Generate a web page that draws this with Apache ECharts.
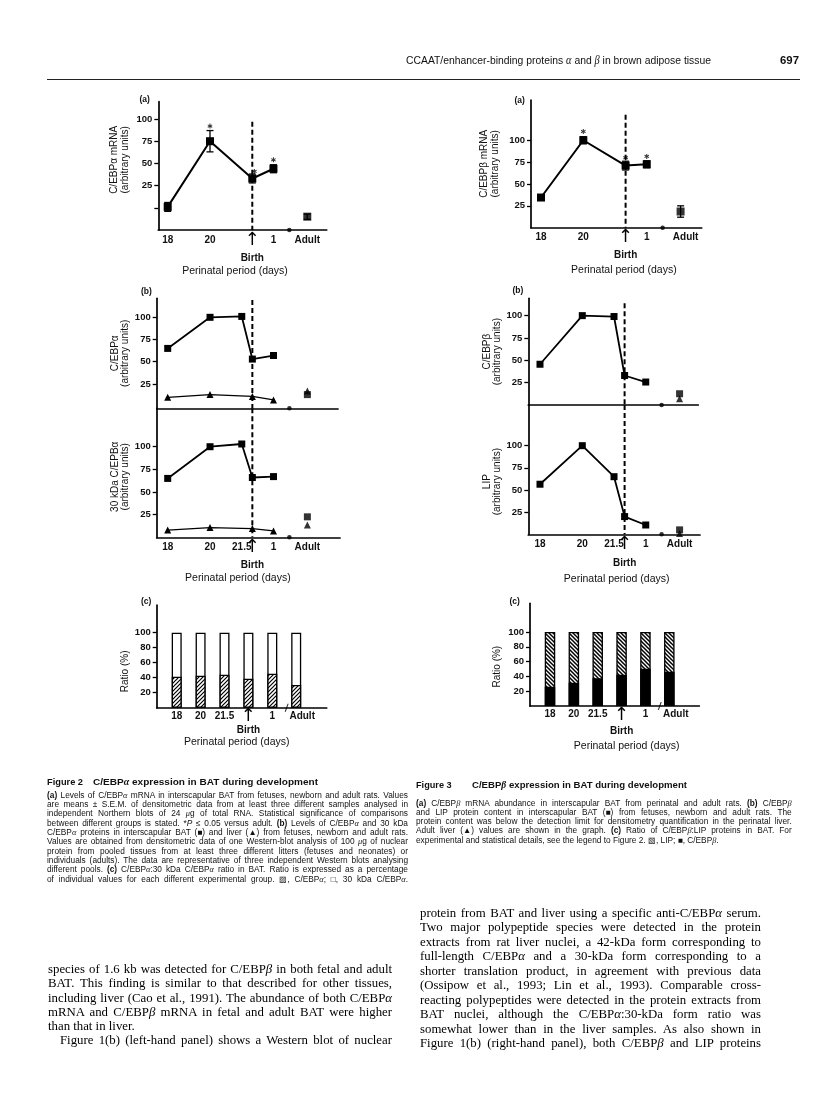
<!DOCTYPE html>
<html><head><meta charset="utf-8">
<script src="https://cdn.jsdelivr.net/npm/echarts@6/dist/echarts.min.js"></script>
<style>
html,body{margin:0;padding:0;background:#fff}
#page{position:relative;width:816px;height:1099px;overflow:hidden;background:#fff}
#chart{position:absolute;left:0;top:0;width:816px;height:1099px}
#txt{position:absolute;left:0;top:0;width:816px;height:1099px;pointer-events:none}
.ln{position:absolute;white-space:nowrap;line-height:1;color:#111}
.ln span{display:inline-block;transform-origin:0 50%}
.cap{font-family:'Liberation Sans Narrow','Liberation Sans',Arial,sans-serif}
.body{font-family:'Liberation Serif','Times New Roman',serif;color:#000}
.g{font-family:'Liberation Serif',serif;font-style:italic}
#rule{position:absolute;left:47px;top:79px;width:753px;height:1.3px;background:#222}
</style></head>
<body><div id="page"><div id="chart"></div><div id="txt"><div id="rule"></div></div></div>
<script>
// ---------------- DATA ----------------
// Fig 2(a) C/EBPalpha mRNA
const fig2aDays = [18, 20, 22, 23];
const fig2aMean = [1, 75, 33, 44];
const fig2aSem = [5, 12, 5, 4.5];
const fig2aAdult = [-10];
const fig2aAdultSem = [3];
const fig2aStarDays = [20, 22.1, 23];
const fig2aStarVals = [92, 41, 54];
// Fig 3(a) C/EBPbeta mRNA
const fig3aDays = [18, 20, 22, 23];
const fig3aMean = [34.5, 100, 71, 72.5];
const fig3aSem = [2, 4, 5, 4];
const fig3aAdult = [18.5];
const fig3aAdultSem = [6.5];
const fig3aStarDays = [20, 22, 23];
const fig3aStarVals = [110, 80, 81.5];
// Fig 2(b) proteins
const batDays = [18, 20, 21.5, 22, 23];
const liverDays = [18, 20, 22, 23];
const fig2bAlphaBAT = [65, 100, 101, 53, 57];
const fig2bAlphaLiver = [10, 13, 11, 7];
const fig2bAlphaAdult = [13, 17];      // [BAT, liver]
const fig2b30BAT = [65, 100, 103, 66, 67];
const fig2b30Liver = [8, 10.7, 9.6, 7];
const fig2b30Adult = [22.6, 13.7];     // [BAT, liver]
// Fig 3(b) proteins
const fig3bBetaBAT = [45.6, 100, 99, 33, 25.7];
const fig3bBetaAdult = [12.6, 7];      // [BAT, liver]
const fig3bLipBAT = [56.5, 100, 65, 20, 10.5];
const fig3bLipAdult = [5, 1];          // [BAT, liver]
// Fig 2(c), 3(c) ratios (%)
const ratioPos = [1, 2, 3, 4, 5, 6];
const ratioLabels = ['18', '20', '21.5', 'Birth', '1', 'Adult'];
const fig2cAlpha = [41.3, 42.7, 44, 38.7, 45.3, 30.2];
const fig3cBeta = [26, 31.5, 37.4, 42.3, 50.5, 46.4];
const ratioTotal = 100;
// axes
const birthDay = 22;
const adultDay = 24.6;
const breakDay = 23.75;
const ratioBreak = 5.6;
const dayTicksA = [18, 20, 22, 23, 24.6];
const dayLabelsA = ['18', '20', 'Birth', '1', 'Adult'];
const dayTicksB = [18, 20, 21.5, 22, 23, 24.6];
const dayLabelsB = ['18', '20', '21.5', 'Birth', '1', 'Adult'];
const yTicks = [25, 50, 75, 100];
const yTicks2a = [0, 25, 50, 75, 100];
const ratioTicks = [20, 40, 60, 80, 100];

// ---------------- TEXT ----------------
const fig2Caption = [
 '<b>(a)</b> Levels of C/EBP<i class="g">α</i> mRNA in interscapular BAT from fetuses, newborn and adult rats. Values',
 'are means ± S.E.M. of densitometric data from at least three different samples analysed in',
 'independent Northern blots of 24 <i class="g">μ</i>g of total RNA. Statistical significance of comparisons',
 'between different groups is stated. *<i>P</i> ≤ 0.05 versus adult. <b>(b)</b> Levels of C/EBP<i class="g">α</i> and 30 kDa',
 'C/EBP<i class="g">α</i> proteins in interscapular BAT (■) and liver (▲) from fetuses, newborn and adult rats.',
 'Values are obtained from densitometric data of one Western-blot analysis of 100 <i class="g">μ</i>g of nuclear',
 'protein from pooled tissues from at least three different litters (fetuses and neonates) or',
 'individuals (adults). The data are representative of three independent Western blots analysing',
 'different pools. <b>(c)</b> C/EBP<i class="g">α</i>:30 kDa C/EBP<i class="g">α</i> ratio in BAT. Ratio is expressed as a percentage',
 'of individual values for each different experimental group. ▨, C/EBP<i class="g">α</i>; □, 30 kDa C/EBP<i class="g">α</i>.'
];
const fig3Caption = [
 '<b>(a)</b> C/EBP<i class="g">β</i> mRNA abundance in interscapular BAT from perinatal and adult rats. <b>(b)</b> C/EBP<i class="g">β</i>',
 'and LIP protein content in interscapular BAT (■) from fetuses, newborn and adult rats. The',
 'protein content was below the detection limit for densitometry quantification in the perinatal liver.',
 'Adult liver (▲) values are shown in the graph. <b>(c)</b> Ratio of C/EBP<i class="g">β</i>:LIP proteins in BAT. For',
 'experimental and statistical details, see the legend to Figure 2. ▧, LIP; ■, C/EBP<i class="g">β</i>.'
];
const leftBody = [
 'species of 1.6 kb was detected for C/EBP<i>β</i> in both fetal and adult',
 'BAT. This finding is similar to that described for other tissues,',
 'including liver (Cao et al., 1991). The abundance of both C/EBP<i>α</i>',
 'mRNA and C/EBP<i>β</i> mRNA in fetal and adult BAT were higher',
 'than that in liver.',
 'Figure 1(b) (left-hand panel) shows a Western blot of nuclear'
];
const rightBody = [
 'protein from BAT and liver using a specific anti-C/EBP<i>α</i> serum.',
 'Two major polypeptide species were detected in the protein',
 'extracts from rat liver nuclei, a 42-kDa form corresponding to',
 'full-length C/EBP<i>α</i> and a 30-kDa form corresponding to a',
 'shorter translation product, in agreement with previous data',
 '(Ossipow et al., 1993; Lin et al., 1993). Comparable cross-',
 'reacting polypeptides were detected in the protein extracts from',
 'BAT nuclei, although the C/EBP<i>α</i>:30-kDa form ratio was',
 'somewhat lower than in the liver samples. As also shown in',
 'Figure 1(b) (right-hand panel), both C/EBP<i>β</i> and LIP proteins'
];

// ---------------- TEXT LAYOUT ----------------
const txt = document.getElementById('txt');
function mk(html, x, yc, fs, cls, weight) {
  const d = document.createElement('div');
  d.className = 'ln ' + cls;
  d.style.left = x + 'px';
  d.style.top = (yc - 0.53 * fs) + 'px';
  d.style.fontSize = fs + 'px';
  if (weight) d.style.fontWeight = weight;
  const s = document.createElement('span');
  s.innerHTML = html;
  d.appendChild(s);
  txt.appendChild(d);
  return s;
}
function block(lines, fs, cls, weight) {
  const spans = lines.map(l => mk(l.html, l.x, l.yc, fs, cls, weight));
  const nats = spans.map(s => s.getBoundingClientRect().width);
  let k = 1;
  lines.forEach((l, i) => { if (l.w) k = Math.min(k, l.w / nats[i]); });
  lines.forEach((l, i) => {
    const s = spans[i];
    if (l.fit) { s.style.transform = 'scaleX(' + (l.w / nats[i]) + ')'; return; }
    s.style.transform = 'scaleX(' + k + ')';
    if (l.just && l.w) {
      const n = (s.textContent.match(/ /g) || []).length;
      if (n > 0) s.style.wordSpacing = ((l.w / k - nats[i]) / n) + 'px';
    }
  });
}
block([{html: 'CCAAT/enhancer-binding proteins <i class="g">α</i> and <i class="g">β</i> in brown adipose tissue', x: 406, yc: 61, w: 305, fit: true}], 11.5, 'cap');
block([{html: '697', x: 780, yc: 61, w: 19, fit: true}], 11.5, 'cap', 'bold');
[['(a)', 139.5, 100], ['(a)', 514.5, 100.7], ['(b)', 141, 291.7], ['(b)', 512.5, 291], ['(c)', 141, 601.7], ['(c)', 509.5, 601.7]]
  .forEach(p => mk(p[0], p[1], p[2], 8.5, 'cap', 'bold'));
block([{html: 'Figure 2', x: 47, yc: 781.7, w: 36, fit: true}], 9.5, 'cap', 'bold');
block([{html: 'C/EBP<i class="g">α</i> expression in BAT during development', x: 93.3, yc: 781.7, w: 225, fit: true}], 9.5, 'cap', 'bold');
block([{html: 'Figure 3', x: 416, yc: 785, w: 35.7, fit: true}], 9.5, 'cap', 'bold');
block([{html: 'C/EBP<i class="g">β</i> expression in BAT during development', x: 471.7, yc: 785, w: 215, fit: true}], 9.5, 'cap', 'bold');
block(fig2Caption.map((h, i) => ({html: h, x: 47, yc: 795 + i * 9.33, w: 361, just: true})), 8.3, 'cap');
block(fig3Caption.map((h, i) => ({html: h, x: 416, yc: 803.3 + i * 9.17, w: i < 4 ? 375.7 : 0, just: i < 4})), 8.3, 'cap');
block(leftBody.map((h, i) => ({html: h, x: i === 5 ? 60 : 48, yc: 970 + i * 14.2, w: i === 4 ? 0 : (i === 5 ? 332 : 344), just: i !== 4})), 12.8, 'body');
block(rightBody.map((h, i) => ({html: h, x: 420, yc: 913.5 + i * 14.5, w: 341, just: true})), 12.8, 'body');

// ---------------- CHART ----------------
const FONT = "'Liberation Sans', Arial, sans-serif";
const BLK = '#000';
function makeHatch(dir, lw) {
  const c = document.createElement('canvas'); c.width = 4; c.height = 4;
  const x = c.getContext('2d');
  x.fillStyle = '#fff'; x.fillRect(0, 0, 4, 4);
  x.strokeStyle = '#000'; x.lineWidth = lw; x.beginPath();
  if (dir === '/') { x.moveTo(-1, 5); x.lineTo(5, -1); x.moveTo(-1, 1); x.lineTo(1, -1); x.moveTo(3, 5); x.lineTo(5, 3); }
  else { x.moveTo(-1, -1); x.lineTo(5, 5); x.moveTo(-1, 3); x.lineTo(1, 5); x.moveTo(3, -1); x.lineTo(5, 1); }
  x.stroke();
  return c;
}
const hatchFwd = {image: makeHatch('/', 1.2), repeat: 'repeat'};
const hatchBack = {image: makeHatch('\\', 1.5), repeat: 'repeat'};

const grids = [
  {left: 158.3, top: 101.7, width: 168.4, height: 128.3},
  {left: 531, top: 100, width: 170.7, height: 127.7},
  {left: 156.7, top: 298.3, width: 181.3, height: 110},
  {left: 156.7, top: 408.3, width: 183.3, height: 129},
  {left: 528.3, top: 298.3, width: 170, height: 106.7},
  {left: 528.3, top: 405, width: 171.7, height: 129.3},
  {left: 156.7, top: 605, width: 170, height: 102.7},
  {left: 530, top: 603.3, width: 169.3, height: 102.7}
];
const xr = [[17.556, 25.518], [17.527, 25.598], [17.48, 26.047], [17.48, 26.142], [17.447, 25.485], [17.447, 25.565], [0.163, 7.276], [0.162, 7.257]];
const yr = [[-25, 119.5], [0, 146], [-2.4, 121.4], [0, 142.4], [0, 119.4], [0, 145.9], [0, 137], [0, 138.8]];

function makeX(gi, ticks, texts, c) {
  const map = {};
  if (ticks) ticks.forEach((t, i) => map[String(t)] = texts[i]);
  const ax = {
    gridIndex: gi, type: 'value', min: xr[gi][0], max: xr[gi][1],
    axisLine: {show: true, onZero: false, lineStyle: {color: BLK, width: 1.7}},
    axisTick: {show: false}, splitLine: {show: false},
    axisLabel: {show: false}
  };
  if (ticks) {
    ax.axisLabel = {
      show: true, customValues: ticks, margin: 2, interval: 0,
      formatter: v => {
        const t = map[String(v)];
        if (t === undefined) return '';
        if (t === 'Birth') return '{arr|↑}\n{b|Birth}';
        if (t === 'Adult' && c.adultPad) return '{ad|Adult}';
        return '{n|' + t + '}';
      },
      rich: {
        n: {fontSize: 10, fontWeight: 'bold', lineHeight: 12, padding: [c.pad, 0, 0, 0], fontFamily: FONT, color: '#111'},
        ad: {fontSize: 10, fontWeight: 'bold', lineHeight: 12, padding: [c.pad, 0, 0, c.adultPad || 0], fontFamily: FONT, color: '#111'},
        arr: {fontSize: 18, lineHeight: c.A, fontFamily: "'DejaVu Sans', sans-serif", color: '#000'},
        b: {fontSize: 10, fontWeight: 'bold', lineHeight: c.B, fontFamily: FONT, color: '#111'}
      }
    };
    ax.name = 'Perinatal period (days)';
    ax.nameLocation = 'middle';
    ax.nameGap = c.gap;
    ax.nameTextStyle = {fontSize: 10.5, fontFamily: FONT, color: '#111', padding: c.namePad};
  }
  return ax;
}
function makeY(gi, ticks, labels, name, gap, namePad) {
  const ls = {};
  labels.forEach(v => ls[String(v)] = 1);
  return {
    gridIndex: gi, type: 'value', min: yr[gi][0], max: yr[gi][1],
    axisLine: {show: true, onZero: false, lineStyle: {color: BLK, width: 1.7}},
    axisTick: {show: true, length: 4, customValues: ticks, lineStyle: {color: BLK, width: 1.3}},
    axisLabel: {show: true, customValues: labels, margin: 6, fontSize: 9.5, fontWeight: 'bold', fontFamily: FONT, color: '#111',
      formatter: v => ls[String(v)] ? String(v) : ''},
    splitLine: {show: false},
    name: name, nameLocation: 'middle', nameGap: gap, nameRotate: 90,
    nameTextStyle: {fontSize: 10, lineHeight: 10.5, fontFamily: FONT, color: '#111', padding: namePad}
  };
}

const xAxis = [
  makeX(0, dayTicksA, dayLabelsA, {pad: 5.3, A: 16, B: 20, gap: 35.7, namePad: [0, 15, 0, 0]}),
  makeX(1, dayTicksA, dayLabelsA, {pad: 3.6, A: 16, B: 19, gap: 37, namePad: [0, 0, 0, 15], adultPad: 10}),
  makeX(2, null),
  makeX(3, dayTicksB, dayLabelsB, {pad: 4.7, A: 16, B: 19.4, gap: 35, namePad: [0, 21, 0, 0]}),
  makeX(4, null),
  makeX(5, dayTicksB, dayLabelsB, {pad: 4.4, A: 17, B: 19.4, gap: 39.7, namePad: [0, 0, 0, 5]}),
  makeX(6, ratioPos, ratioLabels, {pad: 1, A: 13, B: 16, gap: 28, namePad: [0, 10, 0, 0], adultPad: 12}),
  makeX(7, ratioPos, ratioLabels, {pad: 1, A: 15, B: 16, gap: 34.7, namePad: [0, 0, 0, 24], adultPad: 13})
];
const yAxis = [
  makeY(0, yTicks2a, yTicks, 'C/EBPα mRNA\n(arbitrary units)', 28, [0, 0, 0, 12]),
  makeY(1, yTicks, yTicks, 'C/EBPβ mRNA\n(arbitrary units)', 30.7, 0),
  makeY(2, yTicks, yTicks, 'C/EBPα\n(arbitrary units)', 24.7, 0),
  makeY(3, yTicks, yTicks, '30 kDa C/EPBα\n(arbitrary units)', 24.7, [0, 8, 0, 0]),
  makeY(4, yTicks, yTicks, 'C/EBPβ\n(arbitrary units)', 21.3, 0),
  makeY(5, yTicks, yTicks, 'LIP\n(arbitrary units)', 21.3, [0, 24, 0, 0]),
  makeY(6, ratioTicks, ratioTicks, 'Ratio (%)', 23.2, [0, 30, 0, 0]),
  makeY(7, ratioTicks, ratioTicks, 'Ratio (%)', 28, [0, 24, 0, 0])
];

const series = [];
const STAR = 'path://M4,0h2v3.3l2.9,-1.7l1,1.7l-2.9,1.7l2.9,1.7l-1,1.7l-2.9,-1.7v3.3h-2v-3.3l-2.9,1.7l-1,-1.7l2.9,-1.7l-2.9,-1.7l1,-1.7l2.9,1.7z';
const SLASH = 'path://M0,10L3,0L4.2,0L1.2,10Z';
function pairs(xs, ys) { return xs.map((x, i) => [x, ys[i]]); }
function lineS(gi, xs, ys, symbol, size, width) {
  series.push({type: 'line', xAxisIndex: gi, yAxisIndex: gi, data: pairs(xs, ys), symbol: symbol, symbolSize: size,
    showSymbol: true, lineStyle: {color: BLK, width: width}, itemStyle: {color: BLK}, clip: false, silent: true, z: 4});
}
function scat(gi, data, symbol, size) {
  series.push({type: 'scatter', xAxisIndex: gi, yAxisIndex: gi, data: data, symbol: symbol, symbolSize: size,
    itemStyle: {color: BLK}, clip: false, silent: true, z: 5});
}
function errS(gi, xs, means, sems) {
  series.push({type: 'custom', xAxisIndex: gi, yAxisIndex: gi, clip: false, silent: true, z: 3,
    data: xs.map((x, i) => [x, means[i] - sems[i], means[i] + sems[i]]),
    renderItem: (params, api) => {
      const p1 = api.coord([api.value(0), api.value(1)]);
      const p2 = api.coord([api.value(0), api.value(2)]);
      const st = {stroke: BLK, lineWidth: 1.3};
      const w = 3.5;
      return {type: 'group', children: [
        {type: 'line', shape: {x1: p1[0], y1: p1[1], x2: p2[0], y2: p2[1]}, style: st},
        {type: 'line', shape: {x1: p1[0] - w, y1: p1[1], x2: p1[0] + w, y2: p1[1]}, style: st},
        {type: 'line', shape: {x1: p2[0] - w, y1: p2[1], x2: p2[0] + w, y2: p2[1]}, style: st}
      ]};
    }});
}
function dashS(gi, top) {
  series.push({type: 'line', xAxisIndex: gi, yAxisIndex: gi, data: [[birthDay, top], [birthDay, yr[gi][0]]],
    symbol: 'none', lineStyle: {color: BLK, width: 2, type: [5, 3]}, clip: false, silent: true, z: 2});
}
function breakDot(gi) { scat(gi, [[breakDay, yr[gi][0]]], 'circle', 4.5); }

// Fig 2(a)
dashS(0, 97);
errS(0, fig2aDays, fig2aMean, fig2aSem);
errS(0, [adultDay], fig2aAdult, fig2aAdultSem);
lineS(0, fig2aDays, fig2aMean, 'rect', 8, 2);
scat(0, pairs([adultDay], fig2aAdult), 'rect', 8);
scat(0, pairs(fig2aStarDays, fig2aStarVals), STAR, 5);
breakDot(0);
// Fig 3(a)
dashS(1, 129);
errS(1, fig3aDays, fig3aMean, fig3aSem);
errS(1, [adultDay], fig3aAdult, fig3aAdultSem);
lineS(1, fig3aDays, fig3aMean, 'rect', 8, 2);
scat(1, pairs([adultDay], fig3aAdult), 'rect', 8);
scat(1, pairs(fig3aStarDays, fig3aStarVals), STAR, 5);
breakDot(1);
// Fig 2(b)
dashS(2, 119.5); dashS(3, 142.4);
lineS(2, batDays, fig2bAlphaBAT, 'rect', 7, 1.8);
lineS(2, liverDays, fig2bAlphaLiver, 'triangle', 7, 1.3);
scat(2, [[adultDay, fig2bAlphaAdult[0]]], 'rect', 7);
scat(2, [[adultDay, fig2bAlphaAdult[1]]], 'triangle', 7);
breakDot(2);
lineS(3, batDays, fig2b30BAT, 'rect', 7, 1.8);
lineS(3, liverDays, fig2b30Liver, 'triangle', 7, 1.3);
scat(3, [[adultDay, fig2b30Adult[0]]], 'rect', 7);
scat(3, [[adultDay, fig2b30Adult[1]]], 'triangle', 7);
breakDot(3);
// Fig 3(b)
dashS(4, 114); dashS(5, 145.9);
lineS(4, batDays, fig3bBetaBAT, 'rect', 7, 1.8);
scat(4, [[adultDay, fig3bBetaAdult[0]]], 'rect', 7);
scat(4, [[adultDay, fig3bBetaAdult[1]]], 'triangle', 7);
breakDot(4);
lineS(5, batDays, fig3bLipBAT, 'rect', 7, 1.8);
scat(5, [[adultDay, fig3bLipAdult[0]]], 'rect', 7);
scat(5, [[adultDay, fig3bLipAdult[1]]], 'triangle', 7);
breakDot(5);
// Fig 2(c)
series.push({type: 'bar', xAxisIndex: 6, yAxisIndex: 6, barWidth: 10, barGap: '-100%', silent: true, z: 2,
  data: ratioPos.map(p => [p, ratioTotal]), itemStyle: {color: '#fff', borderColor: BLK, borderWidth: 1.3}});
series.push({type: 'bar', xAxisIndex: 6, yAxisIndex: 6, barWidth: 10, barGap: '-100%', silent: true, z: 3,
  data: pairs(ratioPos, fig2cAlpha), itemStyle: {color: hatchFwd, borderColor: BLK, borderWidth: 1.3}});
scat(6, [[ratioBreak, 0]], SLASH, [4, 8]);
// Fig 3(c)
series.push({type: 'bar', xAxisIndex: 7, yAxisIndex: 7, barWidth: 10.5, barGap: '-100%', silent: true, z: 2,
  data: ratioPos.map(p => [p, ratioTotal]), itemStyle: {color: hatchBack, borderColor: BLK, borderWidth: 1.3}});
series.push({type: 'bar', xAxisIndex: 7, yAxisIndex: 7, barWidth: 10.5, barGap: '-100%', silent: true, z: 3,
  data: pairs(ratioPos, fig3cBeta), itemStyle: {color: BLK, borderColor: BLK, borderWidth: 1.3}});
scat(7, [[ratioBreak, 0]], SLASH, [4, 8]);

const chart = echarts.init(document.getElementById('chart'), null, {renderer: 'canvas'});
chart.setOption({
  backgroundColor: '#fff', animation: false,
  grid: grids, xAxis: xAxis, yAxis: yAxis, series: series
});
</script></body></html>
